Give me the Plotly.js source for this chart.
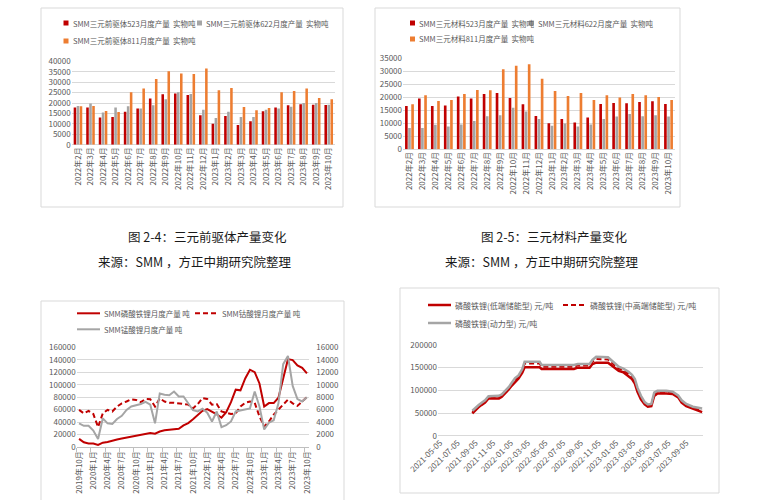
<!DOCTYPE html>
<html>
<head>
<meta charset="utf-8">
<script src="https://cdn.plot.ly/plotly-3.0.1.min.js"></script>
<style>
html, body { margin: 0; padding: 0; background: #fff; }
#report { width: 771px; height: 500px; }
</style>
</head>
<body>
<div id="report"></div>
<script>
var W = 771;
var H = 500;

var FONT = 'Noto Sans CJK SC, Noto Sans, DejaVu Sans';
var GRID = '#D9D9D9';
var TEXT = '#595959';
var RED = '#C00000';
var GRAY = '#A5A5A5';
var ORANGE = '#ED7D31';

// 图 2-4 / 图 2-5: monthly output, tonnes
var months_ncm = [ '2022年2月', '2022年3月', '2022年4月', '2022年5月', '2022年6月', '2022年7月', '2022年8月',
    '2022年9月', '2022年10月', '2022年11月', '2022年12月', '2023年1月', '2023年2月', '2023年3月',
    '2023年4月', '2023年5月', '2023年6月', '2023年7月', '2023年8月', '2023年9月', '2023年10月' ];

var names_pre = [ 'SMM三元前驱体523月度产量\u00a0 实物吨', 'SMM三元前驱体622月度产量\u00a0 实物吨', 'SMM三元前驱体811月度产量\u00a0 实物吨' ];
var pre_523 = [ 17800, 17800, 13000, 13300, 15800, 17400, 22100, 24200, 24500, 23800, 14100, 10100, 13800, 9400, 11200, 16000, 17900, 18900, 19400, 19200, 19000 ];
var pre_622 = [ 18600, 19800, 15500, 17900, 18400, 17400, 18900, 21800, 25100, 24300, 16800, 12800, 15800, 13300, 13300, 16800, 17400, 18200, 20000, 20000, 19200 ];
var pre_811 = [ 18400, 18600, 16200, 15700, 25100, 27000, 31500, 35200, 34200, 33900, 36600, 26100, 27200, 18100, 16500, 17600, 25100, 25800, 26900, 22400, 21800 ];

var names_mat = [ 'SMM三元材料523月度产量\u00a0 实物吨', 'SMM三元材料622月度产量\u00a0 实物吨', 'SMM三元材料811月度产量\u00a0 实物吨' ];
var mat_523 = [ 16700, 19500, 16700, 16800, 20300, 19500, 21300, 21700, 19700, 17300, 12800, 10000, 11700, 10300, 12200, 17400, 17800, 17700, 18200, 18500, 17400 ];
var mat_622 = [ 8200, 8200, 9400, 8800, 9500, 10900, 12700, 13100, 16000, 14500, 11700, 9100, 9900, 8800, 9500, 11700, 12600, 13600, 12700, 13100, 12600 ];
var mat_811 = [ 17300, 20800, 18600, 19000, 21300, 22800, 22700, 30800, 32100, 32700, 27100, 22400, 20500, 21700, 19000, 20800, 19900, 21300, 20800, 20100, 19000 ];

// cathode monthly output, tonnes (LFP on left axis, LCO / LMO on right axis)
var months_cathode = [ '2019年10月', '2019年11月', '2019年12月',
    '2020年1月', '2020年2月', '2020年3月', '2020年4月', '2020年5月', '2020年6月',
    '2020年7月', '2020年8月', '2020年9月', '2020年10月', '2020年11月', '2020年12月',
    '2021年1月', '2021年2月', '2021年3月', '2021年4月', '2021年5月', '2021年6月',
    '2021年7月', '2021年8月', '2021年9月', '2021年10月', '2021年11月', '2021年12月',
    '2022年1月', '2022年2月', '2022年3月', '2022年4月', '2022年5月', '2022年6月',
    '2022年7月', '2022年8月', '2022年9月', '2022年10月', '2022年11月', '2022年12月',
    '2023年1月', '2023年2月', '2023年3月', '2023年4月', '2023年5月', '2023年6月',
    '2023年7月', '2023年8月', '2023年9月', '2023年10月' ];

var names_output = [ 'SMM磷酸铁锂月度产量 吨', 'SMM钴酸锂月度产量 吨', 'SMM锰酸锂月度产量 吨' ];
var lfp_output = [ 13000, 7500, 5500, 5500, 3300, 7000, 8000, 10500, 12000, 13500, 15000, 16500, 18200, 19300, 20300,
    22400, 21300, 24800, 26800, 27800, 28600, 29300, 34600, 38300, 44500, 50500, 58000, 60800, 57000, 52500, 47000,
    56000, 72000, 92000, 91000, 110000, 124000, 120000, 102000, 65000, 70500, 70500, 79000, 108000, 141000, 139500,
    131000, 127000, 118000 ];
var lco_output = [ 5950, 5400, 5800, 5300, 3200, 5400, 5950, 5700, 6500, 7000, 7300, 7650, 7550, 7200, 7700, 7650,
    6500, 7800, 7300, 7100, 7100, 7000, 6900, 6800, 6200, 6900, 7850, 7700, 6800, 6900, 5700, 5500, 5300, 5400, 6500,
    7100, 7300, 7100, 4900, 3300, 4100, 5200, 6000, 6800, 7600, 7000, 6600, 7300, 8000 ];
var lmo_output = [ 3800, 3400, 3400, 2650, 1300, 4600, 3800, 3700, 4500, 5000, 5950, 6500, 6700, 6900, 7250, 6800,
    3800, 8600, 8400, 8300, 8900, 8100, 8100, 7000, 5900, 5700, 6150, 5500, 4100, 5700, 3200, 3500, 4100, 5700, 5900,
    6100, 6200, 8900, 6500, 2800, 3900, 4300, 7000, 13300, 14600, 9800, 7700, 7300, 8000 ];

// LFP prices, yuan / tonne
var names_price = [ '磷酸铁锂(低端储能型) 元/吨', '磷酸铁锂(中高端储能型) 元/吨', '磷酸铁锂(动力型) 元/吨' ];
var price_dates = [ '2021-08-25', '2021-09-05', '2021-09-15', '2021-09-25', '2021-10-08', '2021-10-20', '2021-11-10',
    '2021-11-25', '2021-12-05', '2021-12-17', '2021-12-29', '2022-01-08', '2022-01-20', '2022-02-01', '2022-02-14',
    '2022-02-22', '2022-03-15', '2022-04-15', '2022-04-22', '2022-06-23', '2022-08-12', '2022-08-25', '2022-10-05',
    '2022-10-15', '2022-10-28', '2022-12-08', '2022-12-25', '2023-01-14', '2023-01-30', '2023-02-17', '2023-03-01',
    '2023-03-11', '2023-03-20', '2023-04-01', '2023-04-14', '2023-04-25', '2023-05-07', '2023-05-17', '2023-05-28',
    '2023-06-28', '2023-07-20', '2023-08-08', '2023-08-20', '2023-09-05', '2023-09-28', '2023-10-15', '2023-10-30' ];
var lfp_low = [ 49000, 57000, 62500, 67500, 73000, 82000, 82000, 82000, 86000, 93000, 102000, 110000, 119000, 126000,
    139000, 151000, 151000, 151000, 147000, 147000, 147000, 150000, 150000, 158000, 161000, 161000, 152000, 143000,
    140000, 132000, 125000, 115000, 97000, 80000, 69000, 64000, 65000, 87500, 93000, 93000, 92000, 84500, 73000,
    65000, 59500, 56500, 52000 ];
var lfp_mid = [ 52000, 59000, 64500, 69500, 75500, 84500, 85000, 85000, 88500, 95500, 104500, 113000, 123000, 130000,
    143000, 159000, 159000, 159000, 152000, 152000, 152000, 155000, 155000, 163000, 169000, 168000, 159000, 148000,
    145000, 137000, 130000, 121000, 102000, 85000, 72000, 67000, 68000, 92000, 97000, 97000, 95000, 87000, 76000,
    68000, 62000, 59500, 56500 ];
var lfp_power = [ 55000, 62000, 67000, 72000, 78000, 87000, 88000, 88000, 91000, 98000, 107000, 116000, 127000, 133000,
    147000, 163000, 163000, 163000, 156000, 156000, 156000, 158000, 158000, 167000, 174000, 173000, 164000, 152000,
    148000, 141000, 134000, 125000, 106000, 88000, 74000, 69000, 70000, 95000, 99000, 99000, 97000, 89000, 78000,
    70000, 64000, 61000, 60000 ];
var price_ticks = [ '2021-05-05', '2021-07-05', '2021-09-05', '2021-11-05', '2022-01-05', '2022-03-05', '2022-05-05',
    '2022-07-05', '2022-09-05', '2022-11-05', '2023-01-05', '2023-03-05', '2023-05-05', '2023-07-05', '2023-09-05' ];

var captions = [ '图 2-4：三元前驱体产量变化', '来源：SMM ，方正中期研究院整理', '图 2-5：三元材料产量变化', '来源：SMM ，方正中期研究院整理' ];

var DASH = '5px,3px';

function px_x( px ) { return px / W; }
function px_y( py ) { return 1 - py / H; }

function bar_trace( x, y, name, color, xa, ya )
{
    return { type: 'bar', x: x, y: y, name: name, xaxis: xa, yaxis: ya,
        marker: { color: color, line: { width: 0 } } };
}

function line_trace( x, y, name, color, dash, width, xa, ya )
{
    return { type: 'scatter', mode: 'lines', x: x, y: y, name: name, xaxis: xa, yaxis: ya,
        line: { color: color, dash: dash, width: width } };
}

var data =
[
    bar_trace( months_ncm, pre_523, names_pre[ 0 ], RED, 'x', 'y' ),
    bar_trace( months_ncm, pre_622, names_pre[ 1 ], GRAY, 'x', 'y' ),
    bar_trace( months_ncm, pre_811, names_pre[ 2 ], ORANGE, 'x', 'y' ),
    bar_trace( months_ncm, mat_523, names_mat[ 0 ], RED, 'x2', 'y2' ),
    bar_trace( months_ncm, mat_622, names_mat[ 1 ], GRAY, 'x2', 'y2' ),
    bar_trace( months_ncm, mat_811, names_mat[ 2 ], ORANGE, 'x2', 'y2' ),
    line_trace( months_cathode, lfp_output, names_output[ 0 ], RED, 'solid', 2, 'x3', 'y3' ),
    line_trace( months_cathode, lco_output, names_output[ 1 ], RED, DASH, 2, 'x3', 'y4' ),
    line_trace( months_cathode, lmo_output, names_output[ 2 ], GRAY, 'solid', 2, 'x3', 'y4' ),
    line_trace( price_dates, lfp_low, names_price[ 0 ], RED, 'solid', 2.5, 'x4', 'y5' ),
    line_trace( price_dates, lfp_mid, names_price[ 1 ], RED, DASH, 2, 'x4', 'y5' ),
    line_trace( price_dates, lfp_power, names_price[ 2 ], GRAY, 'solid', 2.5, 'x4', 'y5' )
];

var layout = initialize();

Plotly.newPlot( 'report', data, layout, { staticPlot: true } );

function tick_font( size )
{
    return { family: FONT, size: size, color: TEXT };
}

function value_axis( domain, range, dtick, anchor )
{
    return {
        domain: domain,
        range: range,
        dtick: dtick,
        tick0: 0,
        tickformat: 'd',
        anchor: anchor,
        showgrid: true,
        gridcolor: GRID,
        gridwidth: 1,
        zeroline: true,
        zerolinecolor: GRID,
        zerolinewidth: 1,
        showline: false,
        ticks: '',
        tickfont: tick_font( 8 ),
        fixedrange: true
    };
}

function month_axis( domain, anchor, dtick )
{
    return {
        domain: domain,
        anchor: anchor,
        type: 'category',
        tickmode: 'linear',
        tick0: 0,
        dtick: dtick,
        tickangle: -90,
        showgrid: false,
        zeroline: false,
        showline: false,
        ticks: '',
        tickfont: tick_font( 8 ),
        fixedrange: true
    };
}

function initialize()
{
    var x3 = month_axis( [ px_x( 76.7 ), px_x( 309.3 ) ], 'y3', 3 );
    x3.range = [ -0.5, months_cathode.length - 0.5 ];
    x3.tickson = 'boundaries';
    x3.ticks = 'outside';
    x3.ticklen = 4;
    x3.tickcolor = '#BFBFBF';
    x3.showline = true;
    x3.linecolor = '#BFBFBF';

    var y4 = value_axis( [ px_y( 447 ), px_y( 347.3 ) ], [ 0, 16000 ], 2000, 'x3' );
    y4.overlaying = 'y3';
    y4.side = 'right';
    y4.showgrid = false;
    y4.zeroline = false;
    y4.ticklabelstandoff = 6;

    var layout =
    {
        width: W,
        height: H,
        margin: { l: 0, r: 0, t: 0, b: 0, autoexpand: false },
        paper_bgcolor: '#fff',
        plot_bgcolor: 'rgba(0,0,0,0)',
        font: { family: FONT, color: TEXT },
        barmode: 'group',
        bargap: 0.28,
        bargroupgap: 0.15,
        hovermode: false,
        showlegend: false,
        xaxis: month_axis( [ px_x( 71.7 ), px_x( 335 ) ], 'y', 1 ),
        yaxis: value_axis( [ px_y( 144.7 ), px_y( 61.3 ) ], [ 0, 40000 ], 5000, 'x' ),
        xaxis2: month_axis( [ px_x( 403 ), px_x( 675 ) ], 'y2', 1 ),
        yaxis2: value_axis( [ px_y( 149.3 ), px_y( 58.3 ) ], [ 0, 35000 ], 5000, 'x2' ),
        xaxis3: x3,
        yaxis3: value_axis( [ px_y( 447 ), px_y( 347.3 ) ], [ 0, 160000 ], 20000, 'x3' ),
        yaxis4: y4,
        xaxis4:
        {
            domain: [ px_x( 438 ), px_x( 703 ) ],
            anchor: 'y5',
            type: 'date',
            range: [ '2021-04-28', '2023-11-02' ],
            tickmode: 'array',
            tickvals: price_ticks,
            ticktext: price_ticks,
            tickangle: -45,
            showgrid: false,
            zeroline: false,
            showline: false,
            ticks: '',
            tickfont: tick_font( 8 ),
            fixedrange: true
        },
        yaxis5: value_axis( [ px_y( 435.7 ), px_y( 345 ) ], [ 0, 200000 ], 50000, 'x4' ),
        shapes: [],
        annotations: []
    };

    // chart frames
    var frames = [ [ 41, 8, 343, 207 ], [ 375, 8, 680, 207 ], [ 41, 301, 344, 510 ], [ 400, 288, 719, 493 ] ];
    for( var i = 0; i < frames.length; i++ )
    {
        layout.shapes.push(
            {
                type: 'rect', xref: 'paper', yref: 'paper', layer: 'below',
                x0: px_x( frames[ i ][ 0 ] ), y0: px_y( frames[ i ][ 1 ] ),
                x1: px_x( frames[ i ][ 2 ] ), y1: px_y( frames[ i ][ 3 ] ),
                line: { color: GRID, width: 1 }
            }
        );
    }

    // legends are laid out by hand: Excel-style small swatches and tight spacing
    // [ trace index, swatch left px, row centre px, font size ]
    var keys =
    [
        [ 0, 63.5, 23, 7.5 ], [ 1, 197, 23, 7.5 ], [ 2, 63.5, 41, 7.5 ],
        [ 3, 410, 23, 7.5 ], [ 4, 529, 23, 7.5 ], [ 5, 410, 39, 7.5 ],
        [ 6, 77, 313.3, 7.5 ], [ 7, 195, 313.3, 7.5 ], [ 8, 77, 329.3, 7.5 ],
        [ 9, 428, 305, 8 ], [ 10, 563, 305, 8 ], [ 11, 428, 323, 8 ]
    ];
    for( var i = 0; i < keys.length; i++ )
    {
        var trace = data[ keys[ i ][ 0 ] ];
        var left = keys[ i ][ 1 ];
        var row = keys[ i ][ 2 ];
        var text_x;
        if ( trace.type === 'bar' )
        {
            layout.shapes.push(
                {
                    type: 'rect', xref: 'paper', yref: 'paper',
                    x0: px_x( left ), x1: px_x( left + 5 ),
                    y0: px_y( row - 2.5 ), y1: px_y( row + 2.5 ),
                    fillcolor: trace.marker.color, line: { width: 0 }
                }
            );
            text_x = left + 7;
        }
        else
        {
            layout.shapes.push(
                {
                    type: 'line', xref: 'paper', yref: 'paper',
                    x0: px_x( left ), x1: px_x( left + 23 ),
                    y0: px_y( row ), y1: px_y( row ),
                    line: { color: trace.line.color, width: trace.line.width, dash: trace.line.dash }
                }
            );
            text_x = left + 25;
        }
        layout.annotations.push(
            {
                text: trace.name, xref: 'paper', yref: 'paper', showarrow: false,
                x: px_x( text_x ), y: px_y( row ), xanchor: 'left', yanchor: 'middle',
                font: { family: FONT, size: keys[ i ][ 3 ], color: TEXT }
            }
        );
    }

    // captions under the top charts
    var spots = [ [ 207, 236 ], [ 195, 261 ], [ 554, 236 ], [ 542, 261 ] ];
    for( var i = 0; i < captions.length; i++ )
    {
        layout.annotations.push(
            {
                text: captions[ i ], xref: 'paper', yref: 'paper', showarrow: false,
                x: px_x( spots[ i ][ 0 ] ), y: px_y( spots[ i ][ 1 ] ), xanchor: 'center', yanchor: 'middle',
                font: { family: FONT, size: 12.5, color: '#1a1a1a' }
            }
        );
    }

    return layout;
}
</script>
</body>
</html>
